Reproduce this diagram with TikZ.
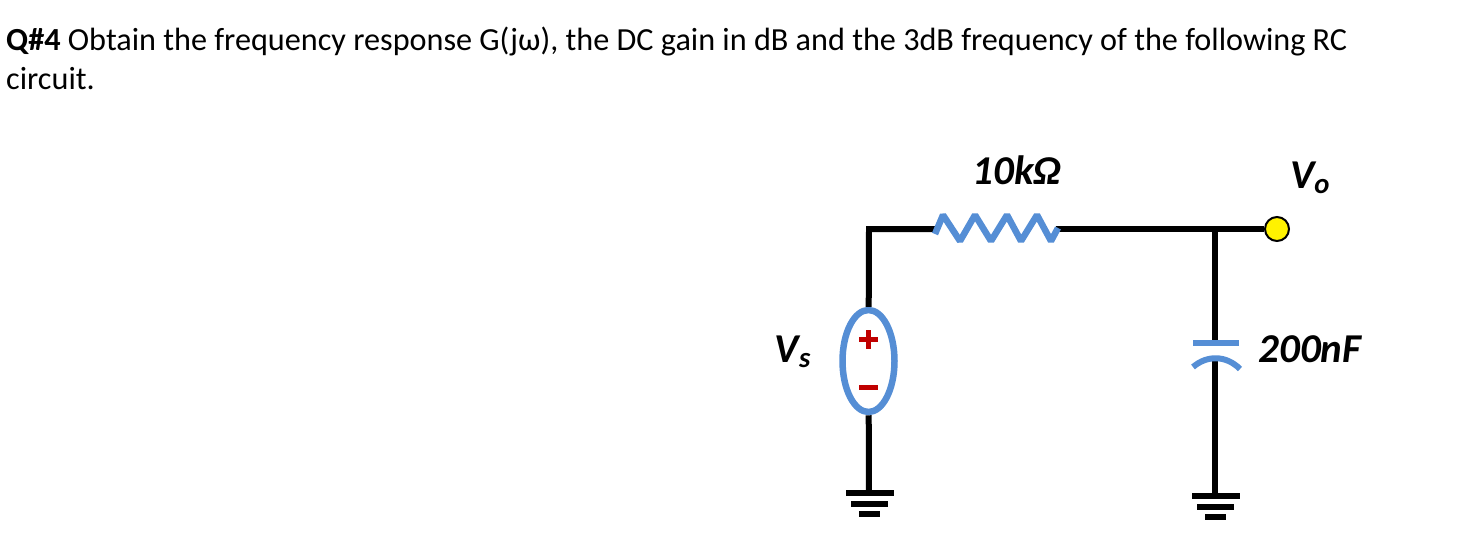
\documentclass[tikz,border=0pt]{standalone}
\usepackage{fontspec}
\setmainfont{Carlito}
\usetikzlibrary{shapes.geometric}
\definecolor{partblue}{RGB}{85,142,213}
\definecolor{signred}{RGB}{192,0,0}
\tikzset{wire/.style={black,line width=6pt},
  part/.style={partblue,line width=6pt},
  sign/.style={signred,line width=5pt},
  linetext/.style={anchor=base west,inner sep=0pt,font=\fontsize{32.2}{38}\selectfont},
  valtext/.style={inner sep=0pt,font=\fontsize{41}{48}\selectfont\bfseries\itshape}}

\begin{document}
\begin{tikzpicture}[x=1pt,y=-1pt]
   \useasboundingbox (0,0) rectangle (1483,550);
   \node[linetext] (question) at (6,50) {\textbf{Q\#4} Obtain the frequency response G(jω), the DC gain in dB and the 3dB frequency of the following RC};
   \node[linetext] (questionend) at (6,89) {circuit.};
   % left branch
   \coordinate (corner) at (869,229);
   \coordinate (resin) at (935,229);
   \coordinate (resout) at (1056,229);
   \coordinate (tee) at (1215,229);
   \coordinate (gndleft) at (869,493);
   \coordinate (gndright) at (1215,496);
   \coordinate (capin) at (1215,343);
   \coordinate (capout) at (1215,358);
   \node[ellipse,draw=partblue,line width=6.5pt,fill=white,minimum width=52pt,minimum height=102pt,inner sep=0pt] (source) at (868.5,361) {};
   \node[circle,draw=black,line width=2pt,fill=yellow,minimum size=24pt,inner sep=0pt] (output) at (1277,229) {};
   \draw[wire,line join=miter] (resin) -- (corner) -- (source);
   \draw[wire] (source) -- (gndleft);
   \draw[wire] (resout) -- (tee);
   \draw[wire] (tee) -- (output);
   \draw[wire] (tee) -- (capin);
   \draw[wire] (capout) -- (gndright);
   % resistor
   \draw[part,line width=6.5pt,line join=bevel] (935,234) -- (943,215) -- (960,241) -- (975,215) -- (991,241) -- (1007,215) -- (1021,241) -- (1037,215) -- (1051,241) -- (1058,228);
   % capacitor
   \draw[part] (1193,343) -- (1239,343);
   \draw[part] (1193,367) .. controls (1207,355) and (1226,355) .. (1240,369);
   % signs
   \draw[sign] (859,339) -- (878,339);
   \draw[sign] (868,330) -- (868,349);
   \draw[sign] (859,387) -- (878,387);
   % grounds
   \begin{scope}[xshift=870pt,yshift=-493pt]
    \draw[wire] (-24,0) -- (24,0);
    \draw[wire] (-19,10.5) -- (18,10.5);
    \draw[wire] (-11,21) -- (10,21);
   \end{scope}
   \begin{scope}[xshift=1216pt,yshift=-496pt]
    \draw[wire] (-24,0) -- (24,0);
    \draw[wire] (-19,11) -- (18,11);
    \draw[wire] (-11,21) -- (10,21);
   \end{scope}
   % labels
   \node[valtext] (reslabel) at (1017,170) {10kΩ};
   \node[valtext] (caplabel) at (1310,349) {200nF};
   \node[valtext] (srclabel) at (793,352) {V\textsubscript{s}};
   \node[valtext] (outlabel) at (1310,178) {V\textsubscript{o}};
\end{tikzpicture}
\end{document}
